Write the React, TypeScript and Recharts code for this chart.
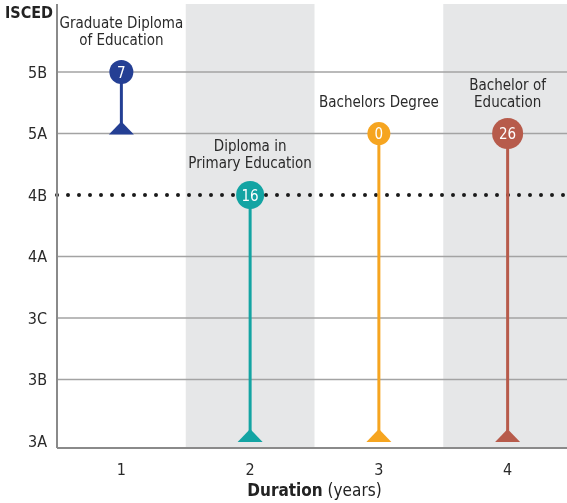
import React from "react";
import {
  ComposedChart,
  Scatter,
  XAxis,
  YAxis,
  ReferenceArea,
  ReferenceLine,
} from "recharts";

const levels = ["3A", "3B", "3C", "4A", "4B", "5A", "5B"];
const durations = [1, 2, 3, 4];
const programNames = [
  ["Graduate Diploma", "of Education"],
  ["Diploma in", "Primary Education"],
  ["Bachelors Degree"],
  ["Bachelor of", "Education"],
];
const entryLevels = ["5A", "3A", "3A", "3A"];
const exitLevels = ["5B", "4B", "5A", "5A"];
const counts = [7, 16, 0, 26];
const colors = ["#243f94", "#13a4a3", "#f6a520", "#b75b4b"];
const radii = [12, 14, 11.5, 15.5];

const shadedDurations = [2, 4];
const gridLevels = ["3B", "3C", "4A", "5A", "5B"];
const dottedLevel = "4B";

const FONT = "'Liberation Sans Narrow', 'DejaVu Sans Condensed', 'Noto Sans', sans-serif";
const lvl = (s: string) => levels.indexOf(s);

const LollipopShape = (props: any) => {
  const { cx, cy, payload } = props;
  if (payload.kind === "base") {
    return (
      <polygon
        points={`${cx - 12.5},${cy + 1} ${cx + 12.5},${cy + 1} ${cx},${cy - 12}`}
        fill={payload.color}
      />
    );
  }
  const lines: string[] = payload.name;
  return (
    <g>
      <circle cx={cx} cy={cy} r={payload.r} fill={payload.color} />
      <text
        x={cx}
        y={cy}
        dy={5.5}
        textAnchor="middle"
        fill="#fff"
        fontSize={15}
        fontFamily={FONT}
      >
        {payload.count}
      </text>
      {lines.map((t, i) => (
        <text
          key={i}
          x={cx}
          y={cy - 32 - (lines.length - 1 - i) * 17}
          dy={5}
          textAnchor="middle"
          fill="#2a2a2a"
          fontSize={15}
          fontFamily={FONT}
        >
          {t}
        </text>
      ))}
    </g>
  );
};

export default function App() {
  return (
    <div
      style={{
        position: "fixed",
        left: 0,
        top: 0,
        width: 567,
        height: 503,
        overflow: "hidden",
        fontFamily: FONT,
      }}
    >
      <ComposedChart
        width={572}
        height={503}
        margin={{ top: 4, right: 0, bottom: 25, left: 0 }}
      >
        <XAxis
          type="number"
          dataKey="x"
          height={30}
          domain={[0.5, 4.5]}
          ticks={durations}
          allowDataOverflow
          axisLine={{ stroke: "#8a8a8a", strokeWidth: 2 }}
          tickLine={false}
          tickMargin={10}
          tick={{ fontSize: 16, fill: "#2a2a2a", fontFamily: FONT }}
        />
        <YAxis
          type="number"
          dataKey="y"
          width={57}
          domain={[-0.114, 7.106]}
          ticks={levels.map((_, i) => i)}
          tickFormatter={(v: number) => levels[v]}
          allowDataOverflow
          axisLine={{ stroke: "#8a8a8a", strokeWidth: 2 }}
          tickLine={false}
          tickMargin={4}
          tick={{ fontSize: 16, fill: "#2a2a2a", fontFamily: FONT }}
        />
        {shadedDurations.map((d) => (
          <ReferenceArea
            key={d}
            x1={d - 0.5}
            x2={d + 0.5}
            fill="#e6e7e8"
            fillOpacity={1}
            stroke="none"
            ifOverflow="hidden"
          />
        ))}
        {gridLevels.map((g) => (
          <ReferenceLine key={g} y={lvl(g)} stroke="#a3a3a3" strokeWidth={1.5} />
        ))}
        <ReferenceLine
          y={lvl(dottedLevel)}
          stroke="#1a1a1a"
          strokeWidth={4}
          strokeDasharray="0 11"
          strokeLinecap="round"
        />
        {durations.map((d, i) => (
          <Scatter
            key={d}
            isAnimationActive={false}
            data={[
              { x: d, y: lvl(entryLevels[i]), kind: "base", color: colors[i] },
              {
                x: d,
                y: lvl(exitLevels[i]),
                kind: "top",
                color: colors[i],
                r: radii[i],
                count: counts[i],
                name: programNames[i],
              },
            ]}
            fill={colors[i]}
            line={{ stroke: colors[i], strokeWidth: 3 }}
            shape={LollipopShape}
          />
        ))}
      </ComposedChart>
      <div
        style={{
          position: "absolute",
          left: 5,
          top: 3,
          fontSize: 16,
          fontWeight: "bold",
          color: "#222",
        }}
      >
        ISCED
      </div>
      <div
        style={{
          position: "absolute",
          left: 57,
          width: 515,
          top: 480,
          textAlign: "center",
          fontSize: 17,
          color: "#222",
        }}
      >
        <b>Duration</b> (years)
      </div>
    </div>
  );
}
